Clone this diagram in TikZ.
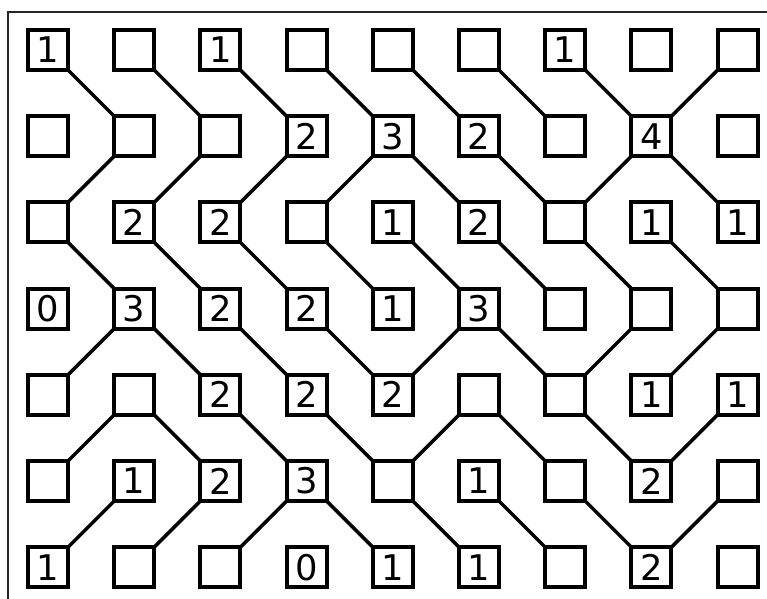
\documentclass[tikz,border=0pt]{standalone}
\usepackage{fontspec}
\setmainfont{DejaVu Sans}

\begin{document}
\begin{tikzpicture}[x=0.75pt, y=-0.75pt,
  cell/.style={draw, line width=3pt, minimum size=30pt, inner sep=0pt,
               outer sep=0pt, font=\fontsize{26.5}{28}\selectfont},
  link/.style={line width=2.6pt, line cap=round}
]
  \useasboundingbox (0,0) rectangle (767,599);
  \draw[line width=1.9pt, black!85] (8,599) -- (8,12) -- (767,12);

  % squares and clues
  \foreach \r/\labels in {0/{1,{},1,{},{},{},1,{},{}},
                          1/{{},{},{},2,3,2,{},4,{}},
                          2/{{},2,2,{},1,2,{},1,1},
                          3/{0,3,2,2,1,3,{},{},{}},
                          4/{{},{},2,2,2,{},{},1,1},
                          5/{{},1,2,3,{},1,{},2,{}},
                          6/{1,{},{},0,1,1,{},2,{}}}
    \foreach \lab [count=\c from 0] in \labels
      \node[cell] (n-\r-\c) at (48+86.2*\c, 50+86.2*\r) {\lab};

  % diagonals down to the right
  \foreach \r/\c [evaluate=\r as \rr using int(\r+1),
                  evaluate=\c as \cc using int(\c+1)] in
    {0/0,0/1,0/2,0/3,0/4,0/5,0/6, 1/4,1/5,1/7,
     2/0,2/1,2/2,2/3,2/4,2/5,2/6,2/7, 3/1,3/2,3/3,3/5,
     4/1,4/2,4/3,4/5,4/6, 5/3,5/4,5/5,5/6}
    \draw[link] (n-\r-\c.south east) -- (n-\rr-\cc.north west);

  % diagonals down to the left
  \foreach \r/\c [evaluate=\r as \rr using int(\r+1),
                  evaluate=\c as \cc using int(\c-1)] in
    {0/8, 1/1,1/2,1/3,1/4,1/7, 3/1,3/5,3/7,3/8,
     4/1,4/5,4/8, 5/1,5/2,5/3,5/8}
    \draw[link] (n-\r-\c.south west) -- (n-\rr-\cc.north east);
\end{tikzpicture}
\end{document}
